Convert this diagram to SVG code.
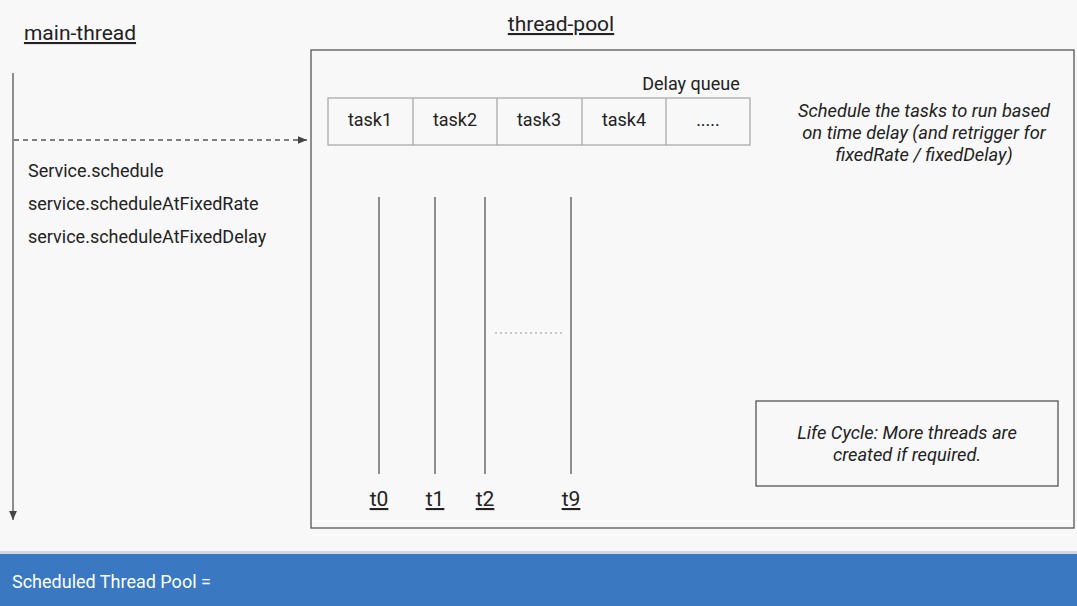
<svg xmlns="http://www.w3.org/2000/svg" width="1077" height="606" viewBox="0 0 1077 606">
<style>
text{font-family:Roboto,"Liberation Sans",sans-serif;fill:#222}
.l{stroke:#555;stroke-width:1.3;fill:none}
.t{font-size:18px}
.i{font-size:18.3px;font-style:italic;text-anchor:middle}
.c{text-anchor:middle}
</style>
<defs><marker id="a" markerWidth="8" markerHeight="8" refX="7" refY="3" orient="auto"><path d="M0,0L7,3L0,6z" fill="#444"/></marker></defs>
<rect width="1077" height="606" fill="#f8f8f8"/>
<rect x="0" y="553" width="1077" height="53" fill="#3a78c2"/>
<rect x="0" y="551" width="1077" height="3" fill="#cfd6df"/>
<text x="12" y="588" style="fill:#fff;font-size:18px">Scheduled Thread Pool =</text>
<g id="main-thread">
<text x="80" y="40" class="c" style="font-size:21px;text-decoration:underline">main-thread</text>
<text x="28" y="177" class="t">Service.schedule</text>
<text x="28" y="210" class="t">service.scheduleAtFixedRate</text>
<text x="28" y="243" class="t">service.scheduleAtFixedDelay</text>
</g>
<g id="thread-pool">
<text x="561" y="31" class="c" style="font-size:21px;text-decoration:underline">thread-pool</text>
<rect x="311" y="50" width="763" height="478" class="l"/>
<text x="691" y="90" class="c t">Delay queue</text>
<rect x="328" y="98" width="422" height="47" fill="none" stroke="#aaa" stroke-width="1.3"/>
<g stroke="#aaa" stroke-width="1.3"><path d="M413 98V145M497 98V145M582 98V145M666 98V145"/></g>
<text x="370" y="126" class="c t">task1</text>
<text x="455" y="126" class="c t">task2</text>
<text x="539" y="126" class="c t">task3</text>
<text x="624" y="126" class="c t">task4</text>
<text x="708" y="126" class="c t">.....</text>
<text x="924" y="117" class="i">Schedule the tasks to run based</text>
<text x="924" y="139" class="i">on time delay (and retrigger for</text>
<text x="924" y="161" class="i">fixedRate / fixedDelay)</text>
<rect x="756" y="401" width="302" height="85" class="l"/>
<text x="907" y="439" class="i">Life Cycle: More threads are</text>
<text x="907" y="461" class="i">created if required.</text>
<g class="l" stroke="#666"><path d="M379 197V474M435 197V474M485 197V474M571 197V474"/></g>
<path d="M495 333H565" stroke="#999" stroke-dasharray="2,3"/>
<text x="379" y="506" class="c" style="font-size:21px;text-decoration:underline">t0</text>
<text x="435" y="506" class="c" style="font-size:21px;text-decoration:underline">t1</text>
<text x="485" y="506" class="c" style="font-size:21px;text-decoration:underline">t2</text>
<text x="571" y="506" class="c" style="font-size:21px;text-decoration:underline">t9</text>
</g>
<g id="connectors">
<path d="M13 73V520" class="l" marker-end="url(#a)"/>
<path d="M14 140H307" class="l" stroke-dasharray="5,4" marker-end="url(#a)"/>
</g>
</svg>
